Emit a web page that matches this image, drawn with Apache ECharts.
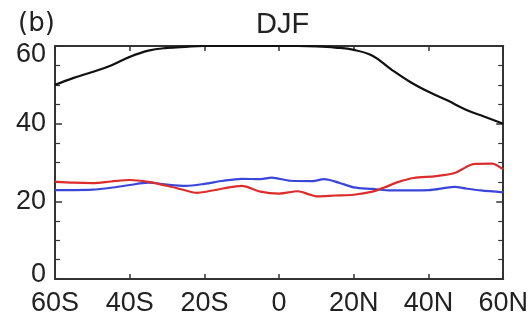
<!DOCTYPE html>
<html><head><meta charset="utf-8">
<script src="https://cdn.jsdelivr.net/npm/echarts@6/dist/echarts.min.js"></script>
<style>html,body{margin:0;padding:0;background:#fff}#c{width:531px;height:322px}</style>
</head><body><div id="c"></div>
<script>
var xTicks = [-60, -40, -20, 0, 20, 40, 60];
var xTickLabels = ['60S', '40S', '20S', '0', '20N', '40N', '60N'];
var yTicks = [0, 20, 40, 60];

var blackLat = [-60,-55,-50,-45,-40,-35,-30,-25,-20,-15,-10,-5,0,5,10,15,20,25,30,35,40,45,50,55,60];
var blackVal = [50,51.8,53.3,55,57.2,58.8,59.5,59.8,60,60,60,60,60,60,59.9,59.6,59,57.5,54,50.8,48.2,46,43.6,41.8,40];

var redLat = [-60,-55,-50,-45,-40,-35,-30,-25,-22,-20,-15,-10,-5,0,5,8,10,15,20,25,28,32,36,42,47,50,52,57,60];
var redVal = [25.1,24.8,24.7,25.1,25.5,25,24,22.8,22.2,22.4,23.3,24,22.5,22,22.6,21.8,21.3,21.5,21.7,22.5,23.5,25,26,26.5,27.3,28.8,29.6,29.7,28.2];

var blueLat = [-60,-55,-50,-45,-40,-35,-30,-25,-20,-15,-10,-5,-2,3,9,12,16,20,25,30,40,47,50,54,60];
var blueVal = [22.9,22.9,23,23.5,24.2,24.8,24.3,24,24.5,25.3,25.8,25.7,26.1,25.3,25.2,25.7,24.8,23.6,23.2,22.8,22.9,23.7,23.3,22.8,22.3];

function pairs(a, b) { return a.map(function (v, i) { return [v, b[i]]; }); }
function xFmt(v) { var i = xTicks.indexOf(v); return i >= 0 ? xTickLabels[i] : ''; }
function yFmt(v) {
  if (v === yTicks[yTicks.length - 1]) return '{top|' + v + '}';
  if (v === yTicks[0]) return '{bot|' + v + '}';
  return '{mid|' + v + '}';
}

var font = 'Liberation Sans, Arial, sans-serif';
var txt = { fontFamily: font, fontSize: 27, color: '#222' };
var axisLine = { show: true, onZero: false, lineStyle: { color: '#333', width: 2 } };
var chart = echarts.init(document.getElementById('c'));
chart.setOption({
  animation: false,
  grid: { left: 55, right: 26, top: 46, bottom: 43, containLabel: false },
  title: [
    { text: 'DJF', left: 251, top: 5, textStyle: { fontFamily: font, fontSize: 29, fontWeight: 'normal', color: '#222' } },
    { text: '(b)', left: 13, top: 6, textStyle: { fontFamily: 'DejaVu Sans, sans-serif', fontSize: 26, fontWeight: 'normal', color: '#222' } }
  ],
  xAxis: [
    { type: 'value', min: -60, max: 60, interval: 20, position: 'bottom',
      axisLine: axisLine, splitLine: { show: false },
      axisTick: { show: true, inside: true, length: 5, lineStyle: { color: '#333', width: 1.5 } },
      axisLabel: { formatter: xFmt, fontFamily: font, fontSize: 27, color: '#222', margin: 11 } },
    { type: 'value', min: -60, max: 60, interval: 20, position: 'top',
      axisLine: axisLine, splitLine: { show: false },
      axisTick: { show: true, inside: true, length: 5, lineStyle: { color: '#333', width: 1.5 } },
      axisLabel: { show: false } }
  ],
  yAxis: [
    { type: 'value', min: yTicks[0], max: yTicks[yTicks.length - 1], interval: 20, position: 'left',
      axisLine: axisLine, splitLine: { show: false },
      axisTick: { show: true, inside: true, length: 7, lineStyle: { color: '#333', width: 1.5 } },
      minorTick: { show: true, splitNumber: 4, length: 5, lineStyle: { color: '#333', width: 1.2 } },
      axisLabel: { formatter: yFmt, margin: 9, rich: {
        top: Object.assign({ padding: [18, 0, 0, 0] }, txt),
        mid: Object.assign({}, txt),
        bot: Object.assign({ padding: [0, 0, 8, 0] }, txt)
      } } },
    { type: 'value', min: yTicks[0], max: yTicks[yTicks.length - 1], interval: 20, position: 'right',
      axisLine: axisLine, splitLine: { show: false },
      axisTick: { show: true, inside: true, length: 7, lineStyle: { color: '#333', width: 1.5 } },
      minorTick: { show: true, splitNumber: 4, length: 5, lineStyle: { color: '#333', width: 1.2 } },
      axisLabel: { show: false } }
  ],
  series: [
    { type: 'line', data: pairs(blueLat, blueVal), smooth: 0.3, showSymbol: false, lineStyle: { color: '#3a46d8', width: 2.2 } },
    { type: 'line', data: pairs(redLat, redVal), smooth: 0.3, showSymbol: false, lineStyle: { color: '#dc2c2c', width: 2.2 } },
    { type: 'line', data: pairs(blackLat, blackVal), smooth: 0.4, showSymbol: false, lineStyle: { color: '#111', width: 2.2 } }
  ]
});
</script></body></html>
